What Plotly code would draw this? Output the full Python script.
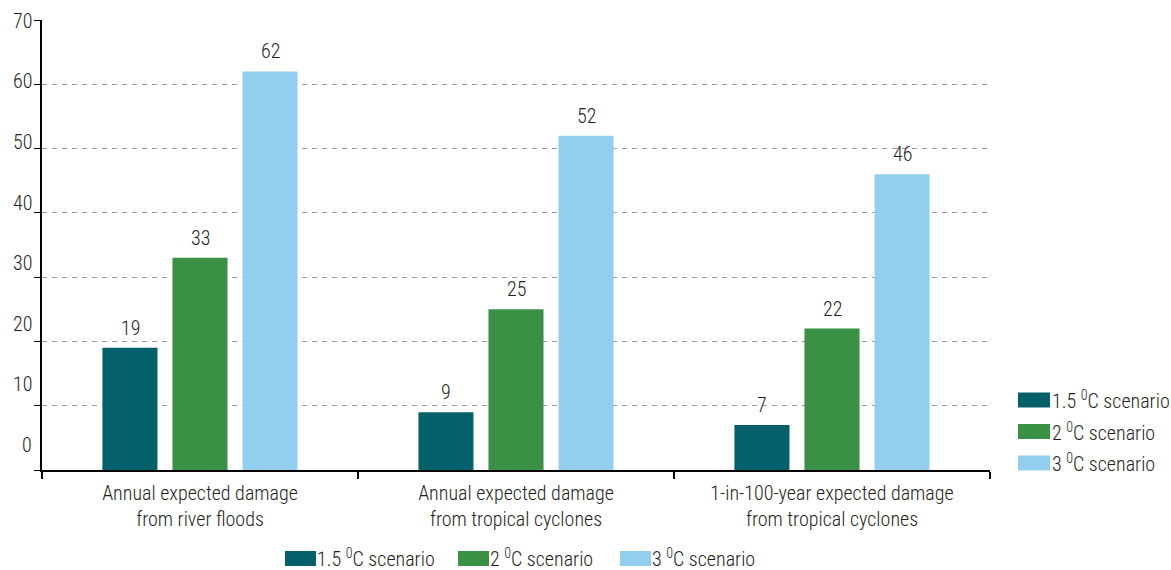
import plotly.graph_objects as go

categories = [
    "Annual expected damage<br>from river floods",
    "Annual expected damage<br>from tropical cyclones",
    "1-in-100-year expected damage<br>from tropical cyclones",
]
series_names = ["1.5 <sup>0</sup>C scenario", "2 <sup>0</sup>C scenario", "3 <sup>0</sup>C scenario"]
values_15 = [19, 9, 7]
values_2 = [33, 25, 22]
values_3 = [62, 52, 46]
y_tick_values = [0, 10, 20, 30, 40, 50, 60, 70]

colors = ["#04606B", "#3A9146", "#92CFEE"]
all_values = [values_15, values_2, values_3]

W, H = 1171, 570
L, R, T, B = 42, 181, 20, 100
PW, PH = W - L - R, H - T - B
FONT = "Roboto Condensed, Liberation Sans Narrow, sans-serif"
WEIGHT = 300
TXT = "#231F20"


def px2x(px):
    return (px - L) / PW


def px2y(py):
    return (T + PH - py) / PH


def tfont(size=20):
    return dict(family=FONT, size=size, color=TXT, weight=WEIGHT)


fig = go.Figure()
for name, vals, col in zip(series_names, all_values, colors):
    fig.add_trace(go.Bar(
        x=categories, y=vals, name=name, marker_color=col,
        marker_line_width=0, showlegend=False, hoverinfo="x+y",
    ))

annotations = []
# value labels above bars
for i, vals in enumerate(all_values):
    for cat, v in zip(categories, vals):
        annotations.append(dict(
            x=cat, y=v, xref="x", yref="y", text=str(v), showarrow=False,
            xshift=(i - 1) * 70, yshift=20, yanchor="middle", font=tfont(),
        ))

# y tick labels (spaced as in the reference)
for k, tv in enumerate(sorted(y_tick_values, reverse=True)):
    py = 20.7 + k * 60.6
    annotations.append(dict(
        x=0, y=px2y(py), xref="paper", yref="paper", text=str(tv),
        showarrow=False, xanchor="right", yanchor="middle", xshift=-8, font=tfont(),
    ))

shapes = []
# right legend
for k, (name, col) in enumerate(zip(series_names, colors)):
    cy = 400 + k * 31.5
    shapes.append(dict(type="rect", xref="paper", yref="paper",
                       x0=px2x(1018), x1=px2x(1050), y0=px2y(cy + 7.5), y1=px2y(cy - 7.5),
                       fillcolor=col, line_width=0))
    annotations.append(dict(x=px2x(1050), y=px2y(cy), xref="paper", yref="paper",
                            text=name, showarrow=False, xanchor="left", yanchor="middle",
                            font=tfont()))

# bottom legend
bottom_x = [285, 458, 620]
for bx, name, col in zip(bottom_x, series_names, colors):
    cy = 558
    shapes.append(dict(type="rect", xref="paper", yref="paper",
                       x0=px2x(bx), x1=px2x(bx + 31), y0=px2y(cy + 8), y1=px2y(cy - 7),
                       fillcolor=col, line_width=0))
    annotations.append(dict(x=px2x(bx + 31), y=px2y(cy), xref="paper", yref="paper",
                            text=name, showarrow=False, xanchor="left", yanchor="middle",
                            borderpad=0, font=tfont()))

fig.update_layout(
    width=W, height=H,
    margin=dict(l=L, r=R, t=T, b=B, autoexpand=False),
    paper_bgcolor="white", plot_bgcolor="white",
    barmode="group", bargap=0.335, bargroupgap=0.214,
    showlegend=False,
    font=tfont(),
    annotations=annotations, shapes=shapes,
)
fig.update_xaxes(
    showline=True, linecolor="black", linewidth=1.5,
    ticks="outside", tickson="boundaries", ticklen=7, tickcolor="black", tickwidth=1.5,
    ticklabelstandoff=4,
    tickfont=tfont(), showgrid=False,
)
fig.update_yaxes(
    range=[0, 70], tickvals=y_tick_values, showticklabels=False,
    showline=True, linecolor="black", linewidth=1.5,
    ticks="outside", ticklen=6, tickcolor="black", tickwidth=1,
    showgrid=True, gridcolor="#9A9A9A", griddash="5px,5px", gridwidth=1,
    zeroline=False,
)

fig.write_html("out.html", config={"displayModeBar": False},
               post_script="document.body.style.margin='0';")
